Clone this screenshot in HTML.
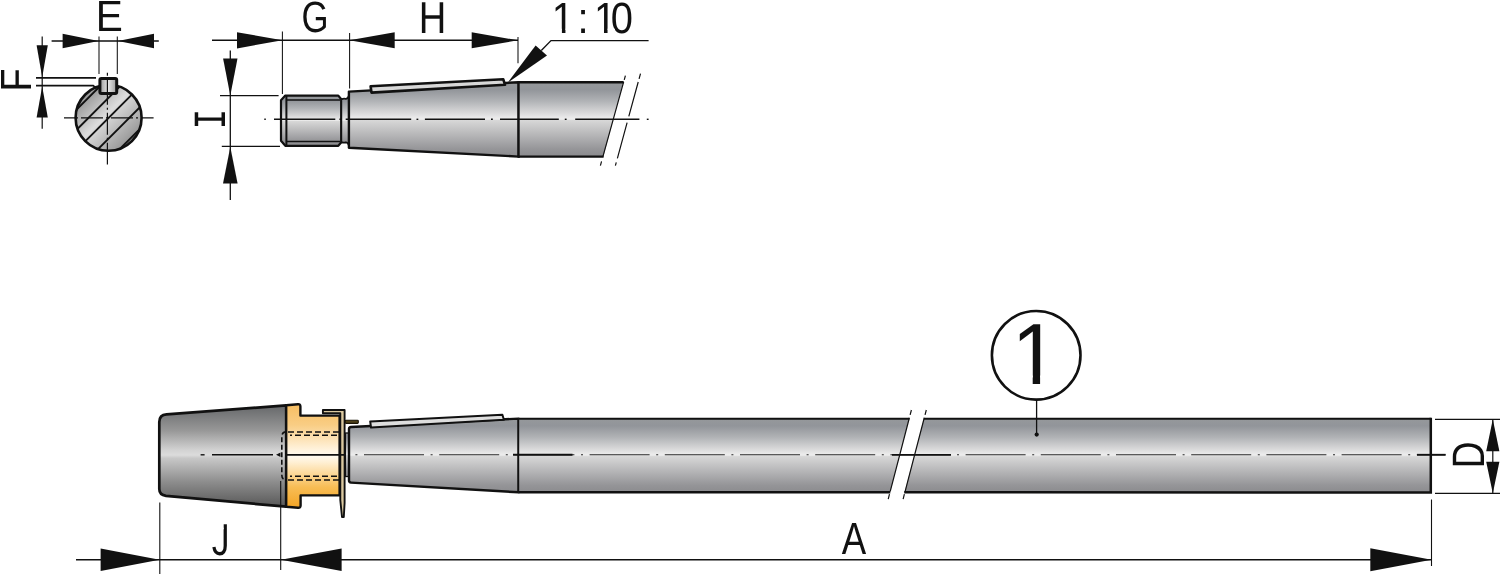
<!DOCTYPE html>
<html lang="en"><head><meta charset="utf-8"><title>Shaft drawing</title>
<style>
html,body{margin:0;padding:0;background:#fff;}
svg{display:block;will-change:transform;}
text{fill:#111;text-rendering:geometricPrecision;}
.l{stroke:#111;fill:none;}
</style></head><body>
<svg width="1500" height="574" viewBox="0 0 1500 574">
<defs>
<linearGradient id="gs" x1="0" y1="0" x2="0" y2="1">
<stop offset="0" stop-color="#95989b"/><stop offset="0.1" stop-color="#92959a"/><stop offset="0.25" stop-color="#b0b2b5"/><stop offset="0.40" stop-color="#d6d6d7"/><stop offset="0.485" stop-color="#ececec"/><stop offset="0.5" stop-color="#e8e8e8"/><stop offset="0.515" stop-color="#d7d7d7"/><stop offset="0.75" stop-color="#afafb1"/><stop offset="0.9" stop-color="#959598"/><stop offset="1" stop-color="#8b8b8e"/>
</linearGradient>
<linearGradient id="gn" x1="0" y1="0" x2="0" y2="1">
<stop offset="0" stop-color="#66686a"/><stop offset="0.25" stop-color="#989898"/><stop offset="0.44" stop-color="#d2d2d2"/><stop offset="0.49" stop-color="#dcdcdc"/><stop offset="0.505" stop-color="#d2d2d2"/><stop offset="0.52" stop-color="#c8c8c8"/><stop offset="0.76" stop-color="#8c8c8c"/><stop offset="1" stop-color="#585858"/>
</linearGradient>
<linearGradient id="go" x1="0" y1="0" x2="0" y2="1">
<stop offset="0" stop-color="#f7be62"/><stop offset="0.2" stop-color="#f9cd84"/><stop offset="0.44" stop-color="#fff3dd"/><stop offset="0.5" stop-color="#fffaf0"/><stop offset="0.56" stop-color="#fff0d4"/><stop offset="0.8" stop-color="#f8bd55"/><stop offset="1" stop-color="#f3a425"/>
</linearGradient>
<linearGradient id="gc" x1="0.1" y1="0.1" x2="0.9" y2="0.9">
<stop offset="0" stop-color="#8a8a8a"/><stop offset="0.45" stop-color="#dcdcdc"/><stop offset="1" stop-color="#8c8c8c"/>
</linearGradient>
<linearGradient id="gk" x1="0" y1="0" x2="1" y2="0">
<stop offset="0" stop-color="#9a9a9a"/><stop offset="0.5" stop-color="#e6e6e6"/><stop offset="1" stop-color="#9a9a9a"/>
</linearGradient>
<clipPath id="c1"><path d="M0,-80 L60,-80 L60,-9.5 L33.98,-9.5 L33.98,1 L25.15,1 L25.15,-9.5 L0,-9.5 Z"/></clipPath>
<clipPath id="cj"><path d="M0,-58 L33.3,-58 L33.3,-75 L50,-75 L50,5 L0,5 Z"/></clipPath>
<clipPath id="cc"><circle cx="108.6" cy="117.8" r="33"/></clipPath>
</defs>

<g id="section">
<circle cx="108.6" cy="117.8" r="33" fill="url(#gc)" stroke="#111" stroke-width="2.6"/>
<g clip-path="url(#cc)" class="l" stroke-width="1.9">
<line x1="26.2" y1="160" x2="116.2" y2="70"/>
<line x1="46.3" y1="160" x2="136.3" y2="70"/>
<line x1="66.5" y1="160" x2="156.5" y2="70"/>
<line x1="87.2" y1="160" x2="177.2" y2="70"/>
<line x1="108.8" y1="160" x2="198.8" y2="70"/>
</g>
<rect x="99.9" y="78.5" width="16.8" height="14.9" rx="1.5" fill="url(#gk)" stroke="#111" stroke-width="3"/>
<line class="l" x1="64" y1="117.8" x2="153.6" y2="117.8" stroke-width="1.3" stroke-dasharray="14 3 22 3 2 3 22 3 2 3 30"/>
<line class="l" x1="107.4" y1="72.7" x2="107.4" y2="164.6" stroke-width="1.2" stroke-dasharray="3 3 26 3 2 3 22 3 2 3 30"/>
<g class="l" stroke-width="1.2">
<line x1="99" y1="36.6" x2="99" y2="74" stroke-width="1.05"/><line x1="117.3" y1="36.6" x2="117.3" y2="74" stroke-width="1.05"/>
<line x1="51.6" y1="41" x2="158.8" y2="41" stroke-width="1.5"/>
</g>
<g fill="#111"><polygon points="98.6,41.0 62.6,48.2 62.6,33.8"/><polygon points="118.0,41.0 154.0,33.8 154.0,48.2"/></g>
<text transform="translate(95.67,31.00) scale(0.931,1)" font-size="43.61" font-family='"Liberation Sans", sans-serif' >E</text>
<g class="l" stroke-width="1.7">
<line x1="36" y1="77.9" x2="96" y2="77.9"/><polyline points="36,85.7 93.2,85.7 96.5,88.5"/>
<line x1="42.2" y1="36.6" x2="42.2" y2="128.8" stroke-width="1.2"/>
</g>
<g fill="#111"><polygon points="42.2,77.2 36.6,45.2 47.8,45.2"/><polygon points="42.2,86.4 47.8,117.4 36.6,117.4"/></g>
<text transform="translate(31.00,91.60) rotate(-90) scale(0.868,1)" font-size="43.61" font-family='"Liberation Sans", sans-serif' >F</text>
</g>
<g id="detail">
<path d="M281,100.2 L285.3,95.6 L338.3,95.6 L341.3,99.3 L341.3,142.2 L338.3,145.8 L285.3,145.8 L281,140.8 Z" fill="url(#gs)" stroke="#111" stroke-width="2.2" stroke-linejoin="round"/>
<g class="l"><line x1="286.4" y1="96" x2="286.4" y2="145.5" stroke-width="2"/><line x1="286" y1="100" x2="340" y2="100" stroke-width="1.6"/><line x1="286" y1="141.5" x2="340" y2="141.5" stroke-width="1.6"/></g>
<path d="M341.3,99.3 Q343.5,98.4 345.5,98.8 Q348,99 348.9,95.8 L348.9,145.5 Q348,142.2 345.5,142.4 Q343.5,143 341.3,142.2 Z" fill="url(#gs)" stroke="#111" stroke-width="1.8"/>
<path d="M348.9,91.6 L518.6,82.2 L518.6,156.6 L348.9,147.8 Z" fill="url(#gs)" stroke="#111" stroke-width="2.4" stroke-linejoin="round"/>
<path d="M518.6,82.2 L623.3,82.2 L603.4,156.6 L518.6,156.6 Z" fill="url(#gs)"/>
<g class="l" stroke-width="2.4"><line x1="518.6" y1="82.2" x2="623.6" y2="82.2"/><line x1="518.6" y1="156.6" x2="603.6" y2="156.6"/><line x1="518.6" y1="81" x2="518.6" y2="157.8" stroke-width="2.2"/></g>
<path d="M370.6,86.2 L503.3,79.3 L505,84.8 L371.5,92.6 Z" fill="#d8d8d8" stroke="#111" stroke-width="2.6" stroke-linejoin="round"/>
<g class="l" stroke-width="1.2"><line x1="625.4" y1="75.7" x2="600.4" y2="165.6" stroke-dasharray="4.3 2.2 77.5 5 4.3"/><line x1="640.5" y1="73.6" x2="615.4" y2="165.6" stroke-dasharray="5.4 3.3 35.7 6.5 36.9 4.3 4"/></g>
<g class="l" stroke-width="1.4">
<line x1="264.3" y1="119.3" x2="265.8" y2="119.3"/>
<line x1="274" y1="119.3" x2="335.3" y2="119.3"/>
<line x1="339.4" y1="119.3" x2="341" y2="119.3"/>
<line x1="345.7" y1="119.3" x2="411.2" y2="119.3"/>
<line x1="416.5" y1="119.3" x2="418.3" y2="119.3"/>
<line x1="424.9" y1="119.3" x2="485" y2="119.3"/>
<line x1="491" y1="119.3" x2="492.8" y2="119.3"/>
<line x1="500" y1="119.3" x2="558.8" y2="119.3"/>
<line x1="564.8" y1="119.3" x2="566.6" y2="119.3"/>
<line x1="575.2" y1="119.3" x2="639.4" y2="119.3"/>
<line x1="646.8" y1="119.3" x2="648.6" y2="119.3"/>
</g>
<g class="l" stroke-width="1.3">
<line x1="220" y1="95.7" x2="278.6" y2="95.7"/><line x1="221.8" y1="146.3" x2="280" y2="146.3"/>
<line x1="230.3" y1="50.5" x2="230.3" y2="200"/>
</g>
<g fill="#111"><polygon points="230.3,95.5 223.1,58.5 237.5,58.5"/><polygon points="230.3,147.0 237.6,183.5 223.0,183.5"/></g>
<text transform="translate(224.50,129.34) rotate(-90) scale(0.736,1)" font-size="46.00" font-family='"Liberation Mono", monospace' >I</text>
<g class="l" stroke-width="1.2">
<line x1="212" y1="40.3" x2="518" y2="40.3" stroke-width="1.5"/>
<line x1="282.4" y1="31.4" x2="282.4" y2="94" stroke-width="1.05"/><line x1="349.6" y1="33" x2="349.6" y2="88.5" stroke-width="1.05"/><line x1="518" y1="37" x2="518" y2="63.2" stroke-width="1.05"/>
</g>
<g fill="#111"><polygon points="282.4,40.3 237.0,48.4 237.0,32.2"/><polygon points="349.4,40.3 394.7,32.3 394.7,48.3"/><polygon points="518.0,40.3 471.7,48.3 471.7,32.3"/></g>
<text transform="translate(301.55,32.27) scale(0.794,1)" font-size="43.78" font-family='"Liberation Sans", sans-serif' >G</text>
<text transform="translate(418.87,32.70) scale(0.855,1)" font-size="44.62" font-family='"Liberation Sans", sans-serif' >H</text>
<clipPath id="cr" clip-rule="evenodd"><path clip-rule="evenodd" d="M-5,-85 H215 V5 H-5 Z M-1,-9.5 H25.15 V3 H-1 Z M33.98,-9.5 H58 V3 H33.98 Z M103.29,-9.5 H130.44 V3 H103.29 Z M139.27,-9.5 H157.79 V3 H139.27 Z"/></clipPath>
<g transform="translate(551.85,33) scale(0.3999,0.4370)" clip-path="url(#cr)"><text font-size="100" font-family='"Liberation Sans", sans-serif' x="0.00 64.00 105.29 147.01">1:10</text></g>
<polyline class="l" stroke-width="1.4" points="648.6,40.6 551,40.6 541.3,50.6"/>
<polygon fill="#111" points="507.8,82.6 535.6,45.6 547,55.6"/>
</g>
<g id="main">
<path d="M286.2,405.4 L166.5,414.4 Q159.3,415 159.3,422 L159.3,489 Q159.3,495 166,495.8 L286.2,506.7 Z" fill="url(#gn)" stroke="#111" stroke-width="2.7" stroke-linejoin="round"/>
<path d="M286.2,405.3 L298,404.2 Q300.4,404 300.4,406.5 L300.4,415.6 L339.6,415.6 L339.6,495.4 L300.6,495.4 L300.6,505.6 Q300.6,508 298,507.8 L286.2,506.7 Z" fill="url(#go)" stroke="#111" stroke-width="2.4" stroke-linejoin="round"/>
<g class="l" stroke-width="1.5" stroke-dasharray="6 3">
<line x1="288" y1="431.9" x2="339" y2="431.9"/><line x1="290" y1="435.3" x2="339" y2="435.3" stroke-dashoffset="4"/>
<line x1="290" y1="476.3" x2="339" y2="476.3" stroke-dashoffset="4"/><line x1="288" y1="479.9" x2="339" y2="479.9"/>
</g>
<g class="l" stroke-width="1.6" stroke-dasharray="5 2.5"><path d="M286,431.9 Q281.8,432 281.8,437 L281.8,475 Q281.8,479.8 286,479.9"/></g>
<path d="M322.9,410 L344.6,410 L344.6,503 L343.8,517 L342,517 L340.3,500 L340.3,413.3 L322.9,413.3 Z" fill="#dbc9a0" stroke="#111" stroke-width="1.9" stroke-linejoin="round"/>
<rect x="345.3" y="420.3" width="13" height="3.1" rx="0.8" fill="#4e4019" stroke="#1a1406" stroke-width="1.1"/>
<rect x="345.4" y="433" width="3.6" height="43.5" fill="url(#gs)" stroke="#111" stroke-width="1.3"/>
<path d="M351,427 L518.5,418.6 L518.5,492.3 L351,482.6 Q349,482.5 349,480.6 L349,429 Q349,427.1 351,427 Z" fill="url(#gs)" stroke="#111" stroke-width="2.4" stroke-linejoin="round"/>
<path d="M518.5,418.6 L909.1,418.6 L890,492.4 L518.5,492.4 Z" fill="url(#gs)"/>
<path d="M924.1,418.6 L1430.8,418.6 L1430.8,492.6 L904.5,492.4 Z" fill="url(#gs)"/>
<g class="l" stroke-width="2.3">
<line x1="518.5" y1="418.7" x2="909.4" y2="418.7" stroke-width="2"/><line x1="518.5" y1="492.3" x2="890.3" y2="492.3" stroke-width="2.5"/>
<line x1="923.8" y1="418.8" x2="1430.8" y2="418.8" stroke-width="2"/><polyline points="1430.8,417.8 1430.8,492.5 904.2,492.3" stroke-width="2.5"/>
<line x1="518.5" y1="418.6" x2="518.5" y2="492.4" stroke-width="1.4"/>
</g>
<g class="l" stroke-width="1.2"><line x1="911.4" y1="410" x2="887.4" y2="502.2" stroke-dasharray="5 3 76 3 5"/><line x1="926.3" y1="410" x2="902.3" y2="502.2" stroke-dasharray="5 3 76 3 5"/></g>
<path d="M370.2,421.4 L502.4,414.7 L503.9,419.8 L371,427.5 Z" fill="#dedede" stroke="#111" stroke-width="2" stroke-linejoin="round"/>
<g class="l" stroke-width="1.4">
<line x1="200.6" y1="454.8" x2="204.6" y2="454.8"/><line x1="212" y1="454.8" x2="273" y2="454.8"/><polygon points="276,454.8 280.5,452.6 280.5,457" fill="#111" stroke="none"/>
<line x1="286.4" y1="454.8" x2="345" y2="454.8" stroke-width="1.8"/>
<line x1="355.4" y1="454.8" x2="1445.6" y2="454.8" stroke-dasharray="2 6.6 60 6.6" stroke-width="1.05" stroke="#2a2a2a"/>
<line x1="513" y1="454.8" x2="572.5" y2="454.8" stroke-width="1.9"/><line x1="892" y1="454.8" x2="951" y2="454.8" stroke-width="1.7"/><line x1="1417" y1="454.8" x2="1445.6" y2="454.8" stroke-width="1.9"/>
</g>
<g class="l" stroke-width="1.2">
<line x1="159.8" y1="502.4" x2="159.8" y2="574" stroke-width="1.1"/><line x1="280.7" y1="481" x2="280.7" y2="570" stroke-width="1.1"/><line x1="1431.5" y1="499.5" x2="1431.5" y2="566" stroke-width="1.1"/>
<line x1="76" y1="559.8" x2="1431" y2="559.8" stroke-width="1.5"/>
</g>
<g fill="#111"><polygon points="159.6,559.8 100.6,571.1 100.6,548.5"/><polygon points="281.0,559.8 341.6,548.5 341.6,571.1"/><polygon points="1431.5,559.8 1370.3,571.3 1370.3,548.3"/></g>
<g transform="translate(211.84,555.16) scale(0.3559,0.4471)" clip-path="url(#cj)"><text font-size="100" font-family='"Liberation Sans", sans-serif'>J</text></g>
<text transform="translate(841.73,554.40) scale(0.813,1)" font-size="45.06" font-family='"Liberation Sans", sans-serif' >A</text>
<g class="l" stroke-width="1.2">
<line x1="1435" y1="419.3" x2="1500" y2="419.3"/><line x1="1435" y1="493.3" x2="1500" y2="493.3"/><line x1="1492.8" y1="419.3" x2="1492.8" y2="493.3"/>
</g>
<g fill="#111"><polygon points="1492.8,419.3 1499.4,451.3 1486.2,451.3"/><polygon points="1492.8,493.3 1486.2,461.8 1499.4,461.8"/></g>
<text transform="translate(1484.10,468.23) rotate(-90) scale(0.815,1)" font-size="45.35" font-family='"Liberation Sans", sans-serif' >D</text>
<circle cx="1036.2" cy="355.3" r="44.3" fill="#fff" stroke="#111" stroke-width="2.6"/>
<line class="l" x1="1036.6" y1="400" x2="1036.6" y2="434" stroke-width="1.3"/><circle cx="1036.7" cy="434.6" r="2.1" fill="#111"/>
<g transform="translate(1011.64,383.70) scale(0.8374,0.8677)" clip-path="url(#c1)"><text font-size="100" font-family='"Liberation Sans", sans-serif'>1</text></g>
</g>
</svg>
</body></html>
